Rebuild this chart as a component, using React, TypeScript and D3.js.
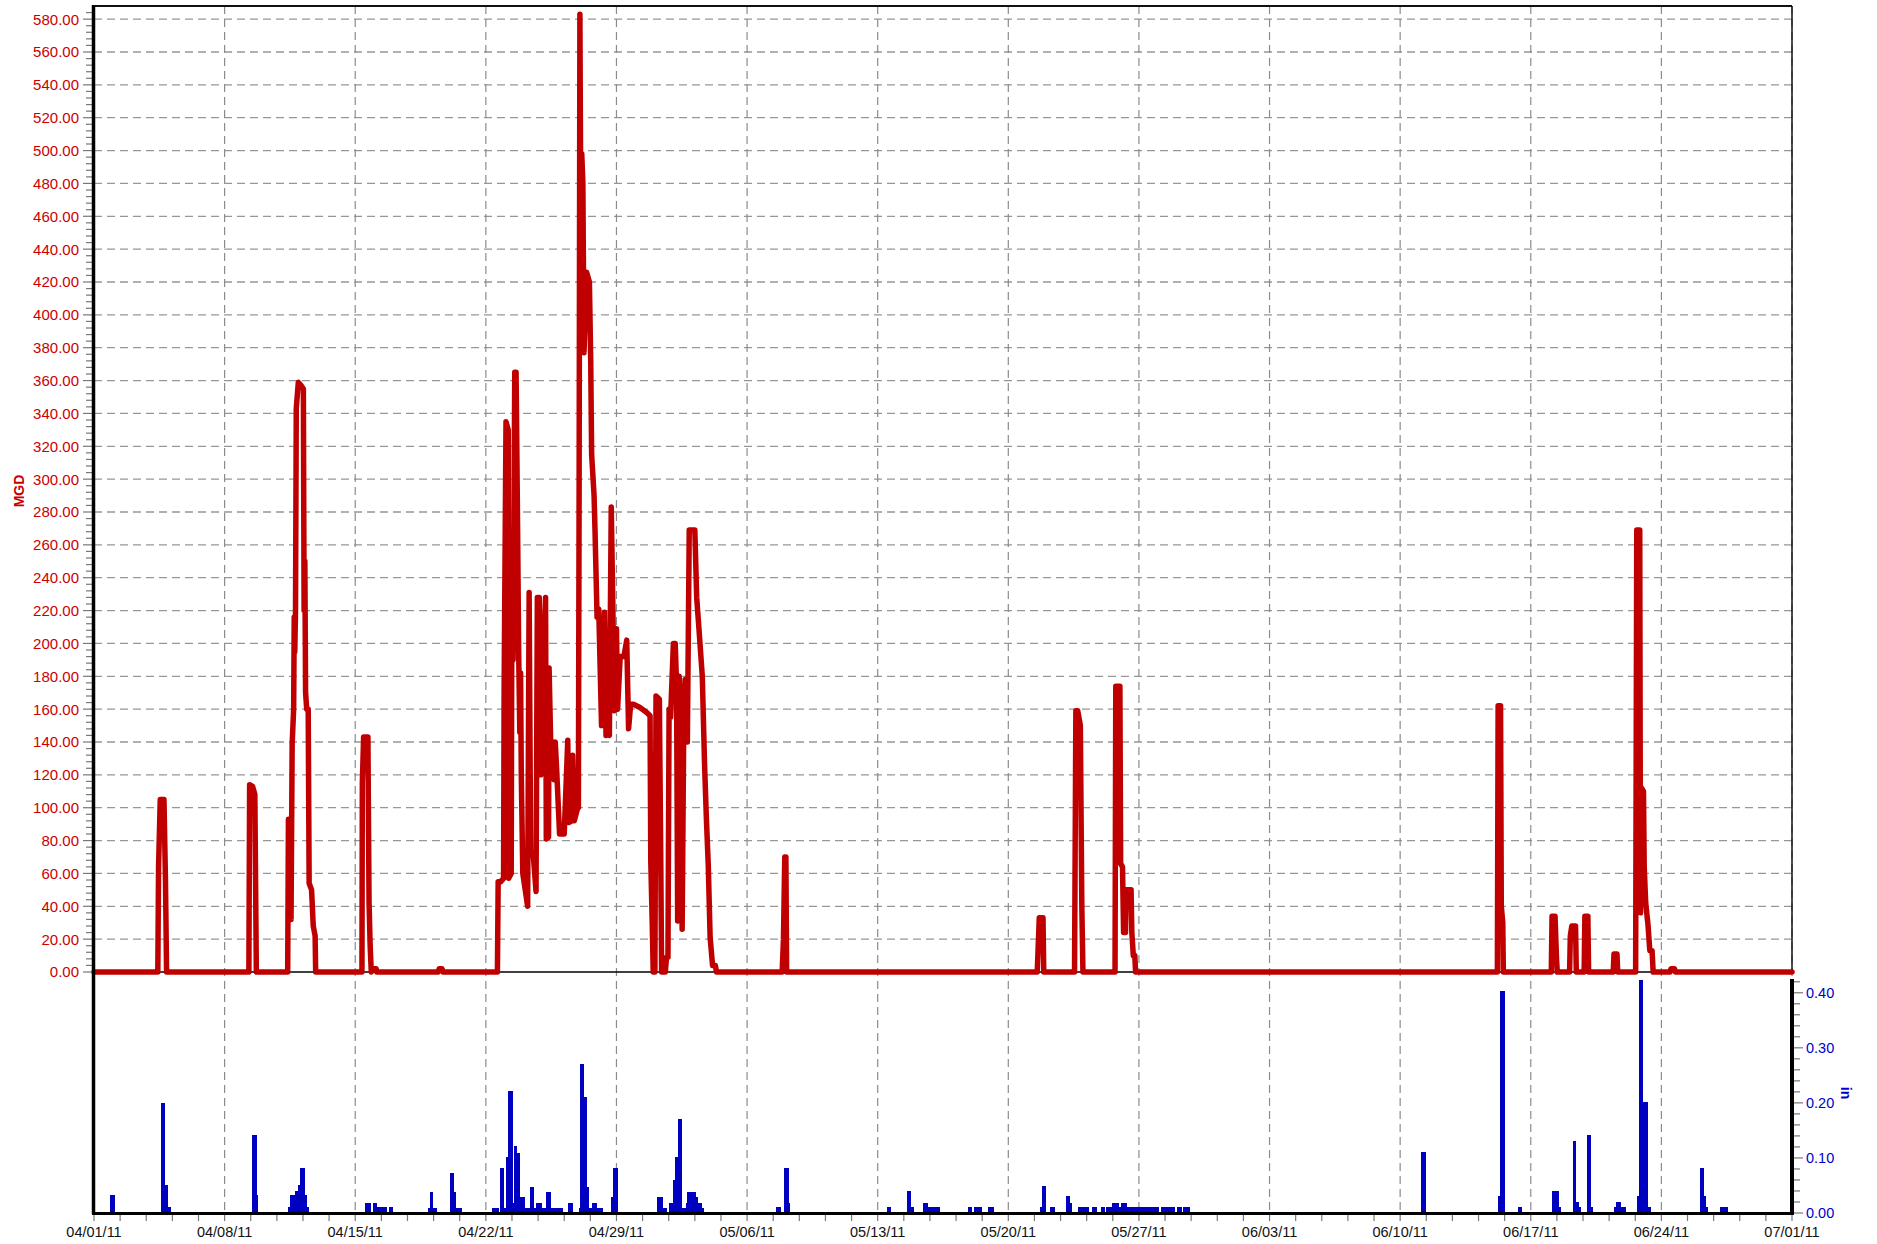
import * as d3 from "d3";

// flow (MGD) readings: [days since 04/01/11, value]
const flow: [number, number][] = [
  [0, 0], [3.42, 0], [3.46, 64], [3.55, 105], [3.75, 105], [3.83, 56], [3.89, 0],
  [8.3, 0], [8.34, 114], [8.5, 113], [8.62, 108], [8.7, 0],
  [10.38, 0], [10.42, 93], [10.56, 32], [10.62, 139], [10.7, 160], [10.73, 216], [10.76, 195], [10.8, 220],
  [10.84, 343], [10.95, 359], [11.1, 357], [11.22, 355], [11.26, 220], [11.3, 250], [11.34, 170], [11.4, 160],
  [11.48, 160], [11.53, 54], [11.66, 50], [11.75, 28], [11.85, 22], [11.88, 0],
  [14.36, 0], [14.38, 115], [14.45, 143], [14.68, 143], [14.74, 43], [14.8, 16], [14.86, 0], [14.95, 2], [15.12, 2], [15.15, 0],
  [18.45, 0], [18.5, 2], [18.65, 2], [18.7, 0],
  [21.62, 0], [21.66, 55], [21.8, 55], [21.95, 57], [21.98, 173], [22.08, 335], [22.2, 330], [22.22, 57], [22.36, 60],
  [22.4, 257], [22.46, 190], [22.55, 365], [22.62, 365], [22.7, 272], [22.76, 194], [22.82, 146], [22.86, 182], [22.9, 120],
  [22.98, 60], [23.24, 40], [23.32, 231], [23.4, 74], [23.55, 70], [23.69, 49], [23.76, 228], [23.86, 228], [23.94, 120],
  [23.99, 204], [24.1, 200], [24.2, 228], [24.24, 81], [24.36, 82], [24.39, 185], [24.48, 137], [24.6, 140], [24.66, 117],
  [24.72, 140], [24.8, 122], [24.95, 84], [25.2, 84], [25.39, 141], [25.44, 91], [25.6, 92], [25.65, 132], [25.74, 92],
  [25.9, 99], [25.96, 100], [26.0, 300], [26.04, 583], [26.1, 433], [26.14, 498], [26.2, 480], [26.26, 377], [26.4, 426],
  [26.55, 420], [26.62, 372], [26.67, 315], [26.8, 290], [26.85, 269], [26.96, 216], [27.05, 221], [27.2, 150], [27.36, 219],
  [27.44, 144], [27.55, 150], [27.62, 144], [27.72, 283], [27.8, 228], [27.88, 159], [28.0, 209], [28.06, 160], [28.2, 192],
  [28.4, 192], [28.55, 202], [28.65, 148], [28.76, 163], [28.91, 163], [29.26, 161], [29.62, 158], [29.8, 156], [29.84, 67],
  [29.92, 28], [29.97, 0], [30.06, 0], [30.12, 168], [30.3, 166], [30.38, 60], [30.42, 0], [30.62, 0], [30.68, 9], [30.76, 9],
  [30.82, 160], [30.9, 155], [31.05, 200], [31.15, 200], [31.22, 175], [31.28, 31], [31.36, 180], [31.45, 154], [31.52, 26],
  [31.6, 142], [31.68, 178], [31.8, 140], [31.9, 269], [32.2, 269], [32.3, 228], [32.42, 209], [32.6, 180], [32.72, 127],
  [32.82, 93], [32.92, 65], [33.02, 21], [33.15, 4], [33.3, 4], [33.36, 0],
  [36.88, 0], [36.95, 20], [37.02, 70], [37.08, 70], [37.12, 0],
  [50.55, 0], [50.66, 33], [50.86, 33], [50.9, 0],
  [52.55, 0], [52.62, 159], [52.72, 159], [52.86, 150], [52.94, 40], [53.0, 0],
  [54.72, 0], [54.76, 174], [54.98, 174], [55.02, 66], [55.12, 64], [55.18, 24], [55.28, 24], [55.32, 50], [55.58, 50],
  [55.62, 24], [55.7, 10], [55.78, 10], [55.82, 0],
  [75.21, 0], [75.25, 162], [75.38, 162], [75.42, 40], [75.5, 30], [75.53, 0],
  [78.1, 0], [78.14, 34], [78.3, 34], [78.38, 8], [78.42, 0],
  [79.08, 0], [79.12, 22], [79.2, 28], [79.4, 28], [79.44, 0],
  [79.86, 0], [79.9, 34], [80.06, 34], [80.1, 0],
  [81.42, 0], [81.46, 11], [81.62, 11], [81.66, 0],
  [82.62, 0], [82.68, 269], [82.84, 269], [82.88, 36], [82.94, 112], [83.04, 110], [83.08, 64], [83.16, 42], [83.28, 29],
  [83.38, 13], [83.5, 13], [83.56, 0],
  [84.46, 0], [84.52, 2], [84.7, 2], [84.74, 0],
  [91, 0],
];

// rainfall (in): [from day, to day, depth]
const rain: [number, number, number][] = [
  [0.86, 1.13, 0.032],
  [3.59, 3.8, 0.2], [3.8, 3.95, 0.05], [3.95, 4.1, 0.011],
  [8.47, 8.72, 0.142], [8.72, 8.77, 0.032],
  [10.42, 10.5, 0.011], [10.5, 10.77, 0.032], [10.77, 10.91, 0.04], [10.91, 11.04, 0.05], [11.04, 11.3, 0.081],
  [11.3, 11.39, 0.032], [11.39, 11.52, 0.011],
  [14.52, 14.82, 0.019], [14.96, 15.18, 0.019], [15.18, 15.68, 0.011], [15.8, 16.0, 0.011],
  [17.88, 18.01, 0.009], [18.01, 18.19, 0.038], [18.19, 18.4, 0.009],
  [19.08, 19.29, 0.072], [19.29, 19.4, 0.038], [19.4, 19.7, 0.009],
  [21.33, 21.7, 0.009], [21.76, 21.97, 0.081], [21.97, 22.08, 0.009], [22.08, 22.18, 0.101], [22.18, 22.43, 0.221],
  [22.43, 22.51, 0.018], [22.51, 22.69, 0.121], [22.69, 22.83, 0.109], [22.83, 23.1, 0.029], [23.1, 23.36, 0.009],
  [23.36, 23.58, 0.047], [23.58, 23.69, 0.009], [23.69, 24.01, 0.018], [24.01, 24.22, 0.009], [24.22, 24.47, 0.038],
  [24.47, 25.11, 0.009], [25.4, 25.69, 0.018],
  [26.01, 26.04, 0.009], [26.04, 26.26, 0.271], [26.26, 26.4, 0.21], [26.4, 26.54, 0.047], [26.54, 26.69, 0.009],
  [26.69, 26.94, 0.018], [26.94, 27.26, 0.009], [27.7, 27.83, 0.029], [27.83, 28.06, 0.081],
  [30.15, 30.47, 0.029], [30.47, 30.72, 0.009], [30.81, 31.01, 0.018], [31.01, 31.13, 0.06], [31.13, 31.29, 0.101],
  [31.29, 31.49, 0.171], [31.49, 31.72, 0.009], [31.72, 31.79, 0.018], [31.79, 32.24, 0.038], [32.24, 32.38, 0.029],
  [32.38, 32.56, 0.018], [32.56, 32.69, 0.009],
  [36.55, 36.8, 0.01], [36.98, 37.23, 0.081], [37.23, 37.3, 0.019],
  [42.51, 42.69, 0.01], [43.57, 43.76, 0.04], [43.76, 43.94, 0.01],
  [44.42, 44.67, 0.019], [44.67, 45.33, 0.01],
  [46.83, 47.05, 0.01], [47.16, 47.57, 0.01], [47.91, 48.26, 0.01],
  [50.69, 50.8, 0.01], [50.8, 51.01, 0.049], [51.23, 51.5, 0.01],
  [52.09, 52.3, 0.031], [52.3, 52.44, 0.019], [52.75, 53.3, 0.01], [53.48, 53.73, 0.01], [53.96, 54.18, 0.01],
  [54.23, 54.55, 0.01], [54.55, 54.91, 0.019], [54.91, 55.03, 0.01], [55.03, 55.34, 0.019], [55.34, 57.05, 0.01],
  [57.18, 57.96, 0.01], [58.03, 58.3, 0.01], [58.37, 58.73, 0.01],
  [71.11, 71.38, 0.111],
  [75.22, 75.34, 0.03], [75.34, 75.61, 0.404], [76.29, 76.52, 0.011],
  [78.13, 78.5, 0.04], [78.5, 78.61, 0.011],
  [79.25, 79.45, 0.131], [79.45, 79.56, 0.02], [79.56, 79.68, 0.011],
  [80.0, 80.22, 0.142], [80.22, 80.32, 0.011],
  [81.45, 81.58, 0.011], [81.58, 81.81, 0.02], [81.81, 82.09, 0.011],
  [82.68, 82.79, 0.03], [82.79, 82.99, 0.424], [82.99, 83.27, 0.202], [83.27, 83.43, 0.011],
  [86.06, 86.27, 0.082], [86.27, 86.38, 0.03], [86.38, 86.49, 0.011],
  [87.13, 87.56, 0.011],
];

const flowTicks = d3.range(0, 581, 20);
const rainTicks = [0, 0.1, 0.2, 0.3, 0.4];

const W = 1877;
const H = 1244;
const FONT = "'Liberation Sans', Arial, sans-serif";
const RED = "#c00000";
const BLUE = "#0000c0";

const t0 = Date.UTC(2011, 3, 1);
const t1 = Date.UTC(2011, 6, 1);
const toDate = (d: number) => new Date(t0 + d * 86400000);

export default function App() {
  const left = 94;
  const right = 1792;
  const top = 6;
  const zeroY = 972;
  const bottom = 1213;

  const x = d3.scaleUtc().domain([t0, t1]).range([left, right]);
  const yF = d3.scaleLinear().domain([0, 588]).range([zeroY, top]);
  const yR = d3.scaleLinear().domain([0, 0.425]).range([bottom, 979]);

  const weeks = d3.utcDay.range(new Date(t0), new Date(t1 + 1), 7);
  const minorX = d3.range(0, 91.01, 1.4).map(toDate);
  const minorF = d3.range(0, 588, 4);
  const minorR = d3.range(0, 0.43, 0.02);
  const fmtDate = d3.utcFormat("%m/%d/%y");
  const fmt2 = d3.format(".2f");

  const line = d3
    .line<[number, number]>()
    .x((d) => x(toDate(d[0])))
    .y((d) => yF(d[1]));

  return (
    <svg
      width={W}
      height={H}
      style={{ position: "absolute", left: 0, top: 0, display: "block", background: "#fff" }}
      fontFamily={FONT}
    >
      {/* horizontal grid, upper panel */}
      {flowTicks.filter((v) => v > 0).map((v) => (
        <line key={"hg" + v} x1={left} x2={right} y1={yF(v)} y2={yF(v)}
          stroke="#969696" strokeWidth={1.3} strokeDasharray="8,5" />
      ))}
      {/* vertical grid across both panels */}
      {weeks.map((d) => (
        <line key={"vg" + +d} x1={x(d)} x2={x(d)} y1={top} y2={bottom}
          stroke="#8c8c8c" strokeWidth={1.2} strokeDasharray="8,5" />
      ))}

      {/* rainfall bars */}
      <g shapeRendering="crispEdges">
        {rain.map(([a, b, v], i) => (
          <rect key={"r" + i} x={x(toDate(a))} y={yR(v)}
            width={Math.max(1, x(toDate(b)) - x(toDate(a)))} height={yR(0) - yR(v)} fill={BLUE} />
        ))}
      </g>

      {/* upper panel frame */}
      <line x1={left - 1} x2={right} y1={top} y2={top} stroke="#111" strokeWidth={2} />
      <line x1={right} x2={right} y1={top} y2={zeroY} stroke="#111" strokeWidth={1.5} />
      <line x1={left} x2={right} y1={zeroY} y2={zeroY} stroke="#000" strokeWidth={1.5} />

      {/* flow line */}
      <path d={line(flow) ?? ""} fill="none" stroke={RED} strokeWidth={5.5}
        strokeLinejoin="round" strokeLinecap="round" />

      {/* left axis */}
      {minorF.map((v) => (
        <line key={"lt" + v} x1={v % 20 === 0 ? left - 11 : left - 8} x2={left} y1={yF(v)} y2={yF(v)}
          stroke="#777" strokeWidth={1.2} />
      ))}
      {flowTicks.map((v) => (
        <text key={"ll" + v} x={79} y={yF(v)} dy="0.36em" textAnchor="end" fontSize={15} fill="#cc0000">
          {fmt2(v)}
        </text>
      ))}
      <text transform={`translate(19,491) rotate(-90)`} textAnchor="middle" dy="0.36em"
        fontSize={14} fontWeight="bold" fill="#cc0000">MGD</text>
      <line x1={left - 0.5} x2={left - 0.5} y1={top - 1} y2={bottom + 1} stroke="#000" strokeWidth={3.5} />

      {/* right axis */}
      {minorR.map((v, i) => (
        <line key={"rt" + i} x1={right} x2={i % 5 === 0 ? right + 11 : right + 8} y1={yR(v)} y2={yR(v)}
          stroke="#777" strokeWidth={1.2} />
      ))}
      {rainTicks.map((v) => (
        <text key={"rl" + v} x={1806} y={yR(v)} dy="0.36em" fontSize={14.5} fill="#0000cc">
          {fmt2(v)}
        </text>
      ))}
      <text transform={`translate(1846,1093) rotate(90)`} textAnchor="middle" dy="0.36em"
        fontSize={14} fontWeight="bold" fill="#0000cc">in</text>
      <line x1={right} x2={right} y1={979} y2={bottom + 1} stroke="#000" strokeWidth={4} />

      {/* bottom axis */}
      {minorX.map((d, i) => (
        <line key={"bt" + i} x1={x(d)} x2={x(d)} y1={bottom} y2={bottom + 8} stroke="#777" strokeWidth={1.2} />
      ))}
      <line x1={left - 2} x2={right + 2} y1={bottom + 0.5} y2={bottom + 0.5} stroke="#000" strokeWidth={3} />
      {weeks.map((d) => (
        <text key={"bl" + +d} x={x(d)} y={1237} textAnchor="middle" fontSize={14.5} fill="#111">
          {fmtDate(d)}
        </text>
      ))}
    </svg>
  );
}
